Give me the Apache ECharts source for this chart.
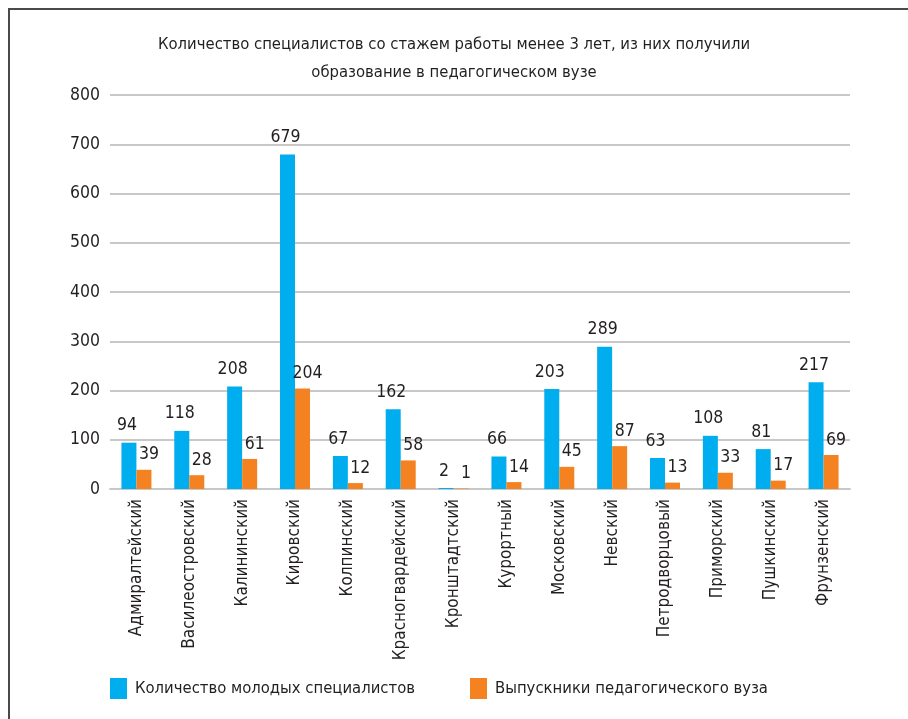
<!DOCTYPE html>
<html>
<head>
<meta charset="utf-8" />
<title>Молодые специалисты</title>
<style>
  body, html { margin: 0; padding: 0; background: #fff; }
  #container { width: 908px; height: 719px; }
  #frame {
    position: absolute; left: 8px; top: 8px; width: 900px; height: 711px;
    border-top: 2px solid #4a4a4a; border-left: 2px solid #4a4a4a;
    pointer-events: none;
  }
</style>
</head>
<body>
<div id="container"></div>
<div id="frame"></div>
<script src="https://cdn.jsdelivr.net/npm/echarts@6/dist/echarts.min.js"></script>
<script>
var FONT = '"Liberation Sans Narrow", "DejaVu Sans Condensed", sans-serif';
var TXT = '#231f20';

var districts = ['Адмиралтейский', 'Василеостровский', 'Калининский', 'Кировский', 'Колпинский',
  'Красногвардейский', 'Кронштадтский', 'Курортный', 'Московский', 'Невский',
  'Петродворцовый', 'Приморский', 'Пушкинский', 'Фрунзенский'];
var young = [94, 118, 208, 679, 67, 162, 2, 66, 203, 289, 63, 108, 81, 217];
var graduates = [39, 28, 61, 204, 12, 58, 1, 14, 45, 87, 13, 33, 17, 69];
var seriesNames = ['Количество молодых специалистов', 'Выпускники педагогического вуза'];

var chart = echarts.init(document.getElementById('container'));
chart.setOption({
  animation: false,
  backgroundColor: '#fff',
  textStyle: { fontFamily: FONT, color: TXT },
  title: {
    text: 'Количество специалистов со стажем работы менее 3 лет, из них получили\nобразование в педагогическом вузе',
    left: 'center',
    top: 26,
    textStyle: { fontFamily: FONT, fontSize: 16.5, fontWeight: 'normal', color: TXT, lineHeight: 28 }
  },
  legend: [{
    data: [seriesNames[0]],
    left: 105, top: 673,
    icon: 'rect',
    itemWidth: 17, itemHeight: 21,
    itemGap: 0,
    textStyle: { fontFamily: FONT, fontSize: 16.5, color: TXT, padding: [0, 0, 0, 3] }
  }, {
    data: [seriesNames[1]],
    left: 465, top: 673,
    icon: 'rect',
    itemWidth: 17, itemHeight: 21,
    textStyle: { fontFamily: FONT, fontSize: 16.5, color: TXT, padding: [0, 0, 0, 3] }
  }],
  grid: { left: 110, right: 58, top: 95, bottom: 230, containLabel: false },
  xAxis: {
    type: 'category',
    data: districts,
    axisLine: { lineStyle: { color: '#c8c8c8', width: 2 } },
    axisTick: { show: false },
    axisLabel: { rotate: 90, margin: 10, interval: 0, fontFamily: FONT, fontSize: 17, color: TXT }
  },
  yAxis: {
    type: 'value',
    min: 0, max: 800, interval: 100,
    axisLine: { show: false },
    axisTick: { show: false },
    splitLine: { lineStyle: { color: '#c8c8c8', width: 2 } },
    axisLabel: { margin: 10, fontFamily: FONT, fontSize: 17.5, color: TXT }
  },
  series: [{
    name: seriesNames[0],
    type: 'bar',
    data: young,
    barWidth: 15,
    barGap: '0%',
    itemStyle: { color: '#00aeef' },
    label: { show: true, position: 'top', distance: 8, offset: [-2, 0], fontFamily: FONT, fontSize: 17.5, color: TXT }
  }, {
    name: seriesNames[1],
    type: 'bar',
    data: graduates,
    barWidth: 15,
    itemStyle: { color: '#f58220' },
    label: { show: true, position: 'top', distance: 6, offset: [5, 0], fontFamily: FONT, fontSize: 17.5, color: TXT }
  }]
});
</script>
</body>
</html>
